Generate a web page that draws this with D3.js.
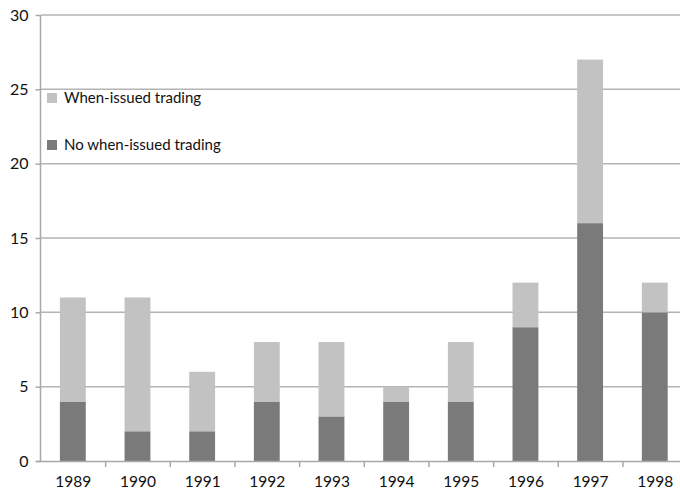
<!DOCTYPE html>
<html><head><meta charset="utf-8">
<script src="https://cdn.jsdelivr.net/npm/d3@7"></script>
<style>body{margin:0;background:#fff}svg{display:block}text{font-family:Lato,"Open Sans",sans-serif;fill:#111}</style>
</head><body><svg id="c" width="680" height="494"></svg>
<script>
const years = ["1989","1990","1991","1992","1993","1994","1995","1996","1997","1998"];
const noWhenIssued = [4,2,2,4,3,4,4,9,16,10];
const whenIssued = [7,9,4,4,5,1,4,3,11,2];
const yTicks = [0,5,10,15,20,25,30];
const seriesNames = ["No when-issued trading","When-issued trading"];
const colors = {"No when-issued trading":"#7a7a7a","When-issued trading":"#c2c2c2"};

const svg = d3.select("#c");
const x = d3.scaleBand().domain(years).range([41, 687.6]).paddingInner(0.6).paddingOuter(0.3);
const y = d3.scaleLinear().domain([0,30]).range([461,15]);

const table = years.map((yr,i)=>({year:yr,"No when-issued trading":noWhenIssued[i],"When-issued trading":whenIssued[i]}));
const stack = d3.stack().keys(seriesNames)(table);

// gridlines
svg.append("g").selectAll("line").data(yTicks.filter(d=>d>0)).join("line")
  .attr("x1",41).attr("x2",680).attr("y1",d=>y(d)).attr("y2",d=>y(d))
  .attr("stroke","#b4b4b4").attr("stroke-width",1.5);

// bars
svg.append("g").selectAll("g").data(stack).join("g")
  .attr("fill",d=>colors[d.key])
  .selectAll("rect").data(d=>d).join("rect")
  .attr("x",d=>x(d.data.year)-0.5).attr("width",x.bandwidth())
  .attr("y",d=>y(d[1])).attr("height",d=>y(d[0])-y(d[1]));

// y axis
const yAxis = svg.append("g").attr("transform","translate(40.5,0)")
  .call(d3.axisLeft(y).tickValues(yTicks).tickSize(5).tickPadding(7));
yAxis.select(".domain").attr("stroke","#a8a8a8").attr("stroke-width",1.5).attr("d","M0,15V461");
yAxis.selectAll(".tick line").attr("stroke","#a8a8a8").attr("stroke-width",1.5);
yAxis.selectAll(".tick text").style("font-size","16px").attr("fill","#111");

// x axis
const step = x.step();
const bounds = d3.range(0, years.length+1).map(i=>41+i*step);
const xg = svg.append("g");
xg.append("line").attr("x1",36).attr("x2",680).attr("y1",461.5).attr("y2",461.5).attr("stroke","#a8a8a8").attr("stroke-width",1.5);
xg.selectAll("line.t").data(bounds.slice(1)).join("line").attr("class","t")
  .attr("x1",d=>d).attr("x2",d=>d).attr("y1",461).attr("y2",467).attr("stroke","#a8a8a8").attr("stroke-width",1.5);
xg.selectAll("text").data(years).join("text")
  .attr("x",d=>x(d)+x.bandwidth()/2).attr("y",487).attr("text-anchor","middle")
  .style("font-size","15.5px").text(d=>d);

// legend
const leg = svg.append("g");
const legItems = [{name:"When-issued trading",yy:98},{name:"No when-issued trading",yy:145}];
leg.selectAll("rect").data(legItems).join("rect")
  .attr("x",47).attr("y",d=>d.yy-5).attr("width",10).attr("height",10).attr("fill",d=>colors[d.name]);
leg.selectAll("text").data(legItems).join("text")
  .attr("x",64).attr("y",d=>d.yy+5).style("font-size","15px").text(d=>d.name);
</script></body></html>
